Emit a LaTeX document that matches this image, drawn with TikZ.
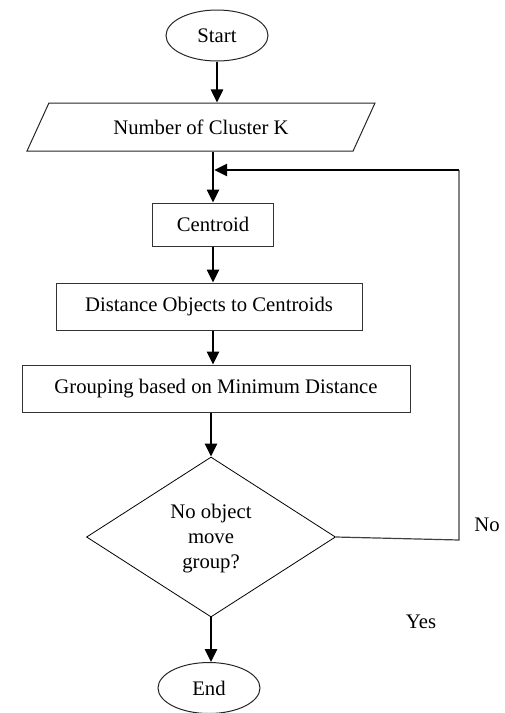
\documentclass[tikz,border=0pt]{standalone}
\usepackage{fontspec}
\setmainfont{Liberation Serif}
\usetikzlibrary{shapes.geometric,arrows.meta}
\begin{document}
\begin{tikzpicture}[x=1pt,y=-1pt,
  every node/.style={font=\fontsize{20.7}{25}\selectfont},
  box/.style={draw=black!80,line width=1pt,minimum height=47pt,inner sep=0pt},
  term/.style={ellipse,draw=black!85,line width=1pt,minimum width=102pt,minimum height=51pt,inner sep=0pt},
  flow/.style={line width=2.5pt,-{Triangle[width=12pt,length=13pt]}},
  thinline/.style={draw=black!75,line width=1.2pt}]
\useasboundingbox (0,0) rectangle (504,713);
\node[term] (start) at (217,35.5) {Start};
\node[trapezium,trapezium left angle=34,trapezium right angle=146,trapezium stretches body,
  draw=black!85,line width=1pt,minimum width=348pt,minimum height=48pt,inner sep=0pt] (ncl) at (201,127) {Number of Cluster K};
\node[box,minimum width=121pt,minimum height=43pt] (centroid) at (213,224.5) {Centroid};
\node[box,minimum width=306pt] (dist) at (209,306.5) {Distance Objects to Centroids};
\node[box,minimum width=388pt] (group) at (216,388.5) {Grouping based on Minimum Distance};
\node[diamond,draw=black,line width=0.8pt,minimum width=249pt,minimum height=160pt,inner sep=0pt,align=center] (check) at (211,537) {\strut No object\\move\\group?};
\node[term] (stop) at (209,688) {End};
\node (no) at (487,525) {No};
\node (yes) at (421,622) {Yes};
\coordinate (loop) at (459,170);
\coordinate (loopr) at (459,540);
% main flow
\draw[flow] (start.south) -- (start.south |- ncl.north);
\draw[flow] (centroid.north |- ncl.south) -- (centroid.north);
\draw[flow] (centroid.south) -- (centroid.south |- dist.north);
\draw[flow] (centroid.south |- dist.south) -- (centroid.south |- group.north);
\draw[flow] (check.north |- group.south) -- (check.north);
\draw[flow] (check.south) -- (check.south |- stop.north);
% back to centroid
\draw[thinline] (check.east) -- (loopr) -- (loop);
\draw[flow,shorten >=1.2pt] (loop) -- (loop -| centroid.north);
\end{tikzpicture}
\end{document}
